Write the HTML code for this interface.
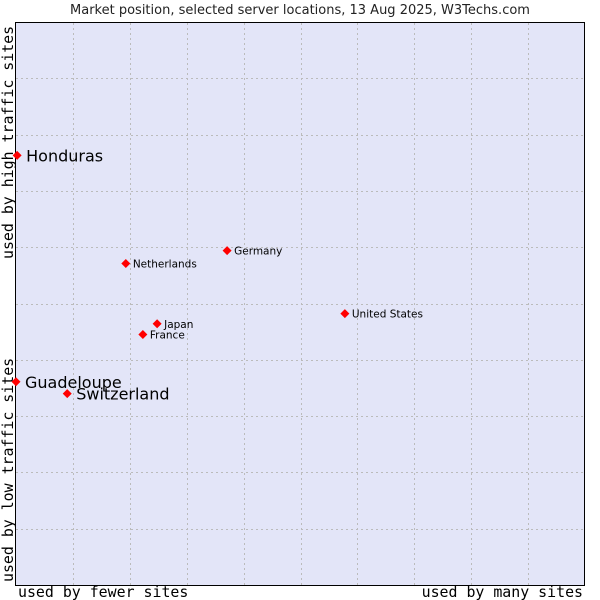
<!DOCTYPE html>
<html><head><meta charset="utf-8"><style>
body{margin:0;background:#fff;width:600px;height:600px;overflow:hidden}
svg{display:block}
</style></head><body>
<svg id="chart" width="600" height="600">
<text x="300" y="14" text-anchor="middle" font-family="DejaVu Sans, sans-serif" font-size="13" fill="#222">Market position, selected server locations, 13 Aug 2025, W3Techs.com</text>
<rect x="15.5" y="22.5" width="569" height="563" fill="#e3e5f8" stroke="#000"/>
<g id="grid"></g>
<g id="points"></g>
<text x="18" y="597" font-family="DejaVu Sans Mono, monospace" font-size="14.9" fill="#000">used by fewer sites</text>
<text x="583" y="597" text-anchor="end" font-family="DejaVu Sans Mono, monospace" font-size="14.9" fill="#000">used by many sites</text>
<text transform="translate(13,582) rotate(-90)" font-family="DejaVu Sans Mono, monospace" font-size="14.9" fill="#000">used by low traffic sites</text>
<text transform="translate(13,259) rotate(-90)" font-family="DejaVu Sans Mono, monospace" font-size="14.9" fill="#000">used by high traffic sites</text>
</svg>
<script>
const names=["Honduras","Guadeloupe","Switzerland","Netherlands","Germany","Japan","France","United States"];
const xVals=[0.2,0,9.0,19.3,37.1,24.8,22.3,57.8];
const yVals=[76.3,36.1,34.0,57.1,59.4,46.4,44.5,48.2];
const bigLabel=[true,true,true,false,false,false,false,false];
const L=16,R=585,T=22,B=585;
const sx=v=>L+v/100*(R-L);
const sy=v=>B-v/100*(B-T);
const NS="http://www.w3.org/2000/svg";
const grid=document.getElementById('grid');
for(let i=1;i<10;i++){
 const x=Math.round(L+i*(R-L)/10)+0.5;
 const l=document.createElementNS(NS,'line');
 l.setAttribute('x1',x);l.setAttribute('x2',x);l.setAttribute('y1',T+1);l.setAttribute('y2',B);
 l.setAttribute('stroke','#bbb');l.setAttribute('stroke-dasharray','2,3');
 
 
 grid.appendChild(l);
 const y=Math.round(T+i*(B-T)/10)+0.5;
 const h=document.createElementNS(NS,'line');
 h.setAttribute('x1',L);h.setAttribute('x2',R);h.setAttribute('y1',y);h.setAttribute('y2',y);
 h.setAttribute('stroke','#bbb');h.setAttribute('stroke-dasharray','2,3');
 
 
 grid.appendChild(h);
}
const pts=document.getElementById('points');
names.forEach((n,i)=>{
 const x=sx(xVals[i]),y=sy(yVals[i]);
 const d=document.createElementNS(NS,'polygon');
 d.setAttribute('points',`${x},${y-4.5} ${x+4.5},${y} ${x},${y+4.5} ${x-4.5},${y}`);
 d.setAttribute('fill','#f00');
 
 
 pts.appendChild(d);
 const t=document.createElementNS(NS,'text');
 const big=bigLabel[i];
 t.setAttribute('x',x+(big?9:7));
 t.setAttribute('y',y+(big?6:4));
 t.setAttribute('font-family','DejaVu Sans, sans-serif');
 t.setAttribute('font-size',big?16:10.5);
 t.setAttribute('fill','#000');
 t.textContent=n;
 
 
 pts.appendChild(t);
});
</script>
</body></html>
